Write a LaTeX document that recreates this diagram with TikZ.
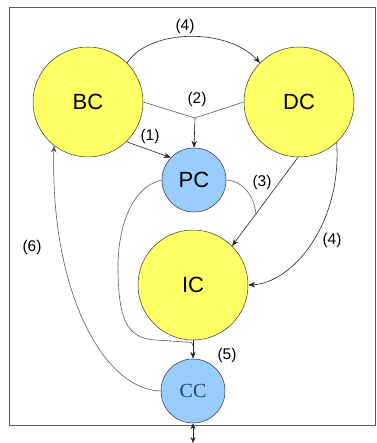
\documentclass[tikz,border=0pt]{standalone}
\usepackage{fontspec}
\setmainfont{Liberation Sans}
\newfontfamily\serifcc{Liberation Serif}
\usetikzlibrary{arrows.meta}
\definecolor{cellyellow}{HTML}{FFFF66}
\definecolor{cellblue}{HTML}{99CCFF}
\definecolor{ccink}{HTML}{2B3F6B}
\definecolor{wire}{HTML}{5A5A5A}
\tikzset{
  bigcell/.style={circle, draw=black!80, line width=0.5pt, fill=cellyellow,
    minimum size=110pt, inner sep=0pt, font=\fontsize{22}{22}\selectfont},
  smallcell/.style={circle, draw=black!80, line width=0.5pt, fill=cellblue,
    minimum size=64pt, inner sep=0pt, font=\fontsize{22}{22}\selectfont},
  flow/.style={draw=black!85, line width=0.6pt, -{Stealth[length=7pt,width=5.5pt]}},
  feed/.style={draw=wire, line width=0.6pt},
  tag/.style={font=\fontsize{15.5}{16}\selectfont, inner sep=0pt}
}
\begin{document}
\begin{tikzpicture}[x=1pt,y=-1pt]
  \useasboundingbox (0,0) rectangle (376,443);
  % outer frame
  \draw[gray!70!black, line width=0.8pt] (9,7) rectangle (375,425);

  % cells
  \node[bigcell] (BC) at (88,102) {BC};
  \node[bigcell] (DC) at (299,102) {DC};
  \node[smallcell] (PC) at (194,180) {PC};
  \node[bigcell] (IC) at (193,285) {IC};
  \node[smallcell, font=\serifcc\fontsize{20}{20}\selectfont, text=ccink] (CC) at (193,391) {CC};

  % (4) BC -> DC over the top
  \draw[flow] (BC.45) .. controls (150,28) and (228,28) .. (DC.135);
  \node[tag] (l4a) at (185,26) {(4)};

  % (2) BC and DC merge into PC
  \coordinate (j2) at (195,118);
  \draw[feed] (BC.east) -- (j2) -- (DC.west);
  \draw[flow] (j2) -- (PC.north);
  \node[tag] (l2) at (197,99) {(2)};

  % (1) BC -> PC
  \draw[flow] (BC.-46) -- (PC.136);
  \node[tag] (l1) at (150,136) {(1)};

  % (3) DC -> IC, joined by PC
  \draw[flow] (DC.-91) -- (IC.45);
  \coordinate (j3) at (256,215);
  \draw[feed] (PC.east) .. controls (244,181) and (255,198) .. (j3);
  \node[tag] (l3) at (262,182) {(3)};

  % (4) DC -> IC on the right
  \draw[flow] (DC.-47) .. controls (342,225) and (292,283) .. (IC.east);
  \node[tag] (l4b) at (332,240) {(4)};

  % (5) PC and IC -> CC
  \draw[feed] (PC.west) .. controls (128,188) and (117,235) .. (118,272)
    .. controls (119,318) and (126,338) .. (155,340) -- (186,342)
    .. controls (192,342) .. (193,346);
  \draw[flow] (IC.south) -- (CC.north);
  \node[tag] (l5) at (227,355) {(5)};

  % (6) CC -> BC
  \draw[feed, -{Stealth[length=7pt,width=5.5pt]}] (CC.west) .. controls (104,390) and (50,292) .. (BC.-128);
  \node[tag] (l6) at (32,247) {(6)};

  % exchange below CC
  \coordinate (out) at (193,443);
  \draw[draw=black!85, line width=0.6pt, {Stealth[length=6pt,width=5pt]}-{Stealth[length=6pt,width=5pt]}] (CC.south) -- (out);
\end{tikzpicture}
\end{document}
